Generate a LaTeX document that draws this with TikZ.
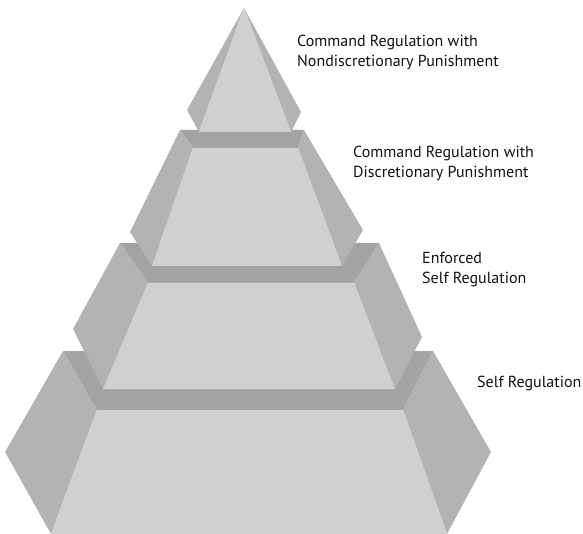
\documentclass[tikz,border=0pt]{standalone}
\usepackage{fontspec}
\setmainfont{PT Sans}
\begin{document}
\begin{tikzpicture}[x=1pt,y=-1pt,
  facefill/.style={fill=facec},
  wingfill/.style={fill=wingc},
  rimfill/.style={fill=rimc},
  lbl/.style={anchor=west,align=left,inner sep=0pt,text=textc,font=\fontsize{16}{20}\selectfont}]
\definecolor{facec}{HTML}{D0D0D0}
\definecolor{wingc}{HTML}{B3B3B3}
\definecolor{rimc}{HTML}{A3A3A3}
\definecolor{textc}{HTML}{111111}
\useasboundingbox (0,0) rectangle (583,534);
% tier 4 (bottom)
\fill[rimfill] (63,351) -- (433,351) -- (403,410) -- (97,410) -- cycle;
\fill[wingfill] (63,351) -- (5,452) -- (51,534) -- (97,410) -- cycle;
\fill[wingfill] (433,351) -- (491,452) -- (447,534) -- (403,410) -- cycle;
\fill[facefill] (97,410) -- (403,410) -- (447,534) -- (51,534) -- cycle;
% tier 3
\fill[rimfill] (120,243) -- (379,243) -- (354,283) -- (148,283) -- cycle;
\fill[wingfill] (120,243) -- (73,329) -- (103,389) -- (148,283) -- cycle;
\fill[wingfill] (379,243) -- (422,337) -- (395,389) -- (354,283) -- cycle;
\fill[facefill] (148,283) -- (354,283) -- (395,389) -- (103,389) -- cycle;
% tier 2
\fill[rimfill] (180,130) -- (304,130) -- (298,148) -- (193,148) -- cycle;
\fill[wingfill] (180,130) -- (130,232) -- (152,266) -- (193,148) -- cycle;
\fill[wingfill] (304,130) -- (363,230) -- (342,266) -- (298,148) -- cycle;
\fill[facefill] (193,148) -- (298,148) -- (342,266) -- (152,266) -- cycle;
% tier 1 (apex)
\fill[wingfill] (244,8) -- (187,110) -- (199,132) -- cycle;
\fill[wingfill] (244,8) -- (301,112) -- (291,132) -- cycle;
\fill[facefill] (244,8) -- (291,132) -- (199,132) -- cycle;
% labels
\node[lbl] (l1) at (297,52) {Command Regulation with\\Nondiscretionary Punishment};
\node[lbl] (l2) at (353,163) {Command Regulation with\\Discretionary Punishment};
\node[lbl] (l3) at (422,270) {Enforced\\Self Regulation};
\node[lbl] (l4) at (477,383) {Self Regulation};
\end{tikzpicture}
\end{document}
